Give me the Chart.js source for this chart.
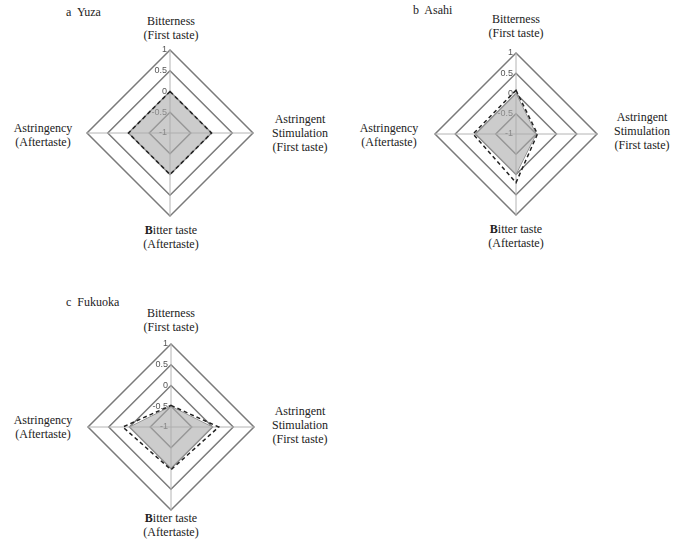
<!DOCTYPE html>
<html>
<head>
<meta charset="utf-8">
<script src="https://cdn.jsdelivr.net/npm/chart.js@4.4.0/dist/chart.umd.min.js"></script>
<style>
  body { margin: 0; background: #fff; }
  #page { position: relative; width: 685px; height: 548px; font-family: "Liberation Serif", "Times New Roman", serif; font-size: 12px; color: #222; }
  .lbl { position: absolute; width: 130px; margin-left: -65px; text-align: center; line-height: 14px; white-space: nowrap; }
  .ttl { position: absolute; line-height: 14px; white-space: pre; }
  .box { position: absolute; }
</style>
</head>
<body>
<div id="page">
  <div class="ttl" style="left:66px;top:5px">a  Yuza</div>
  <div class="lbl" style="left:171px;top:14px">Bitterness<br>(First taste)</div>
  <div class="lbl" style="left:300px;top:112px">Astringent<br>Stimulation<br>(First taste)</div>
  <div class="lbl" style="left:171px;top:223px"><b>B</b>itter taste<br>(Aftertaste)</div>
  <div class="lbl" style="left:43px;top:121px">Astringency<br>(Aftertaste)</div>
  <div class="box" id="boxA"><canvas id="chart-yuza"></canvas></div>

  <div class="ttl" style="left:413px;top:3px">b  Asahi</div>
  <div class="lbl" style="left:516px;top:12px">Bitterness<br>(First taste)</div>
  <div class="lbl" style="left:642px;top:110px">Astringent<br>Stimulation<br>(First taste)</div>
  <div class="lbl" style="left:516px;top:222px"><b>B</b>itter taste<br>(Aftertaste)</div>
  <div class="lbl" style="left:389px;top:121px">Astringency<br>(Aftertaste)</div>
  <div class="box" id="boxB"><canvas id="chart-asahi"></canvas></div>

  <div class="ttl" style="left:66px;top:295px">c  Fukuoka</div>
  <div class="lbl" style="left:171px;top:306px">Bitterness<br>(First taste)</div>
  <div class="lbl" style="left:300px;top:404px">Astringent<br>Stimulation<br>(First taste)</div>
  <div class="lbl" style="left:171px;top:511px"><b>B</b>itter taste<br>(Aftertaste)</div>
  <div class="lbl" style="left:43px;top:413px">Astringency<br>(Aftertaste)</div>
  <div class="box" id="boxC"><canvas id="chart-fukuoka"></canvas></div>
</div>
<script>
// eixos: topo, direita, baixo, esquerda (sentido horario)
const categorias = ['Bitterness (First taste)', 'Astringent Stimulation (First taste)', 'Bitter taste (Aftertaste)', 'Astringency (Aftertaste)'];
const tickValores = [-1, -0.5, 0, 0.5, 1];

// area cinza (referencia) e linha tracejada (amostra)
const yuzaArea = [0, 0, 0, 0];
const yuzaLinha = [0, 0, 0, 0];
const asahiArea = [0, -0.5, 0, 0];
const asahiLinha = [0.08, -0.47, 0.2, 0.06];
const fukuokaArea = [-0.5, 0, 0, 0];
const fukuokaLinha = [-0.48, 0.15, 0.03, 0.16];

// escreve os ticks do lado esquerdo do eixo de cima
const ticksPlugin = {
  id: 'ticksEsquerda',
  beforeDatasetsDraw(chart) {
    const scale = chart.scales.r;
    const ctx = chart.ctx;
    ctx.save();
    ctx.font = '9px "Liberation Sans", Arial, sans-serif';
    ctx.fillStyle = '#555';
    ctx.textAlign = 'right';
    ctx.textBaseline = 'middle';
    tickValores.forEach(v => {
      const d = scale.getDistanceFromCenterForValue(v);
      ctx.fillText(String(v), scale.xCenter - 3, scale.yCenter - d);
    });
    ctx.restore();
  }
};

function criaRadar(idCanvas, idBox, cx, cy, raio, area, linha) {
  const pad = 6;
  const tam = 2 * (raio + pad);
  const box = document.getElementById(idBox);
  box.style.left = (cx - tam / 2) + 'px';
  box.style.top = (cy - tam / 2) + 'px';
  box.style.width = tam + 'px';
  box.style.height = tam + 'px';

  const config = {
    type: 'radar',
    data: {
      labels: categorias,
      datasets: [{
        data: linha,
        borderColor: '#222',
        borderWidth: 1.5,
        borderDash: [4, 3],
        fill: false,
        pointRadius: 0,
        tension: 0
      }, {
        data: area,
        backgroundColor: 'rgba(170,170,170,0.6)',
        borderColor: '#9a9a9a',
        borderWidth: 1,
        fill: 'start', // preenche ate o centro (-1)
        pointRadius: 0,
        tension: 0
      }]
    },
    options: {
      responsive: true,
      maintainAspectRatio: false,
      animation: false,
      layout: { padding: pad },
      plugins: {
        legend: { display: false },
        tooltip: { enabled: false }
      },
      scales: {
        r: {
          min: -1,
          max: 1,
          ticks: { display: false, stepSize: 0.5 },
          pointLabels: { display: false },
          grid: { circular: false, color: '#7a7a7a', lineWidth: 1.5 },
          angleLines: { color: '#b4b4b4', lineWidth: 1 }
        }
      }
    },
    plugins: [ticksPlugin]
  };
  return new Chart(document.getElementById(idCanvas), config);
}

const chartYuza = criaRadar('chart-yuza', 'boxA', 170, 133, 83, yuzaArea, yuzaLinha);
const chartAsahi = criaRadar('chart-asahi', 'boxB', 516, 134, 81, asahiArea, asahiLinha);
const chartFukuoka = criaRadar('chart-fukuoka', 'boxC', 171, 427, 83, fukuokaArea, fukuokaLinha);
</script>
</body>
</html>
